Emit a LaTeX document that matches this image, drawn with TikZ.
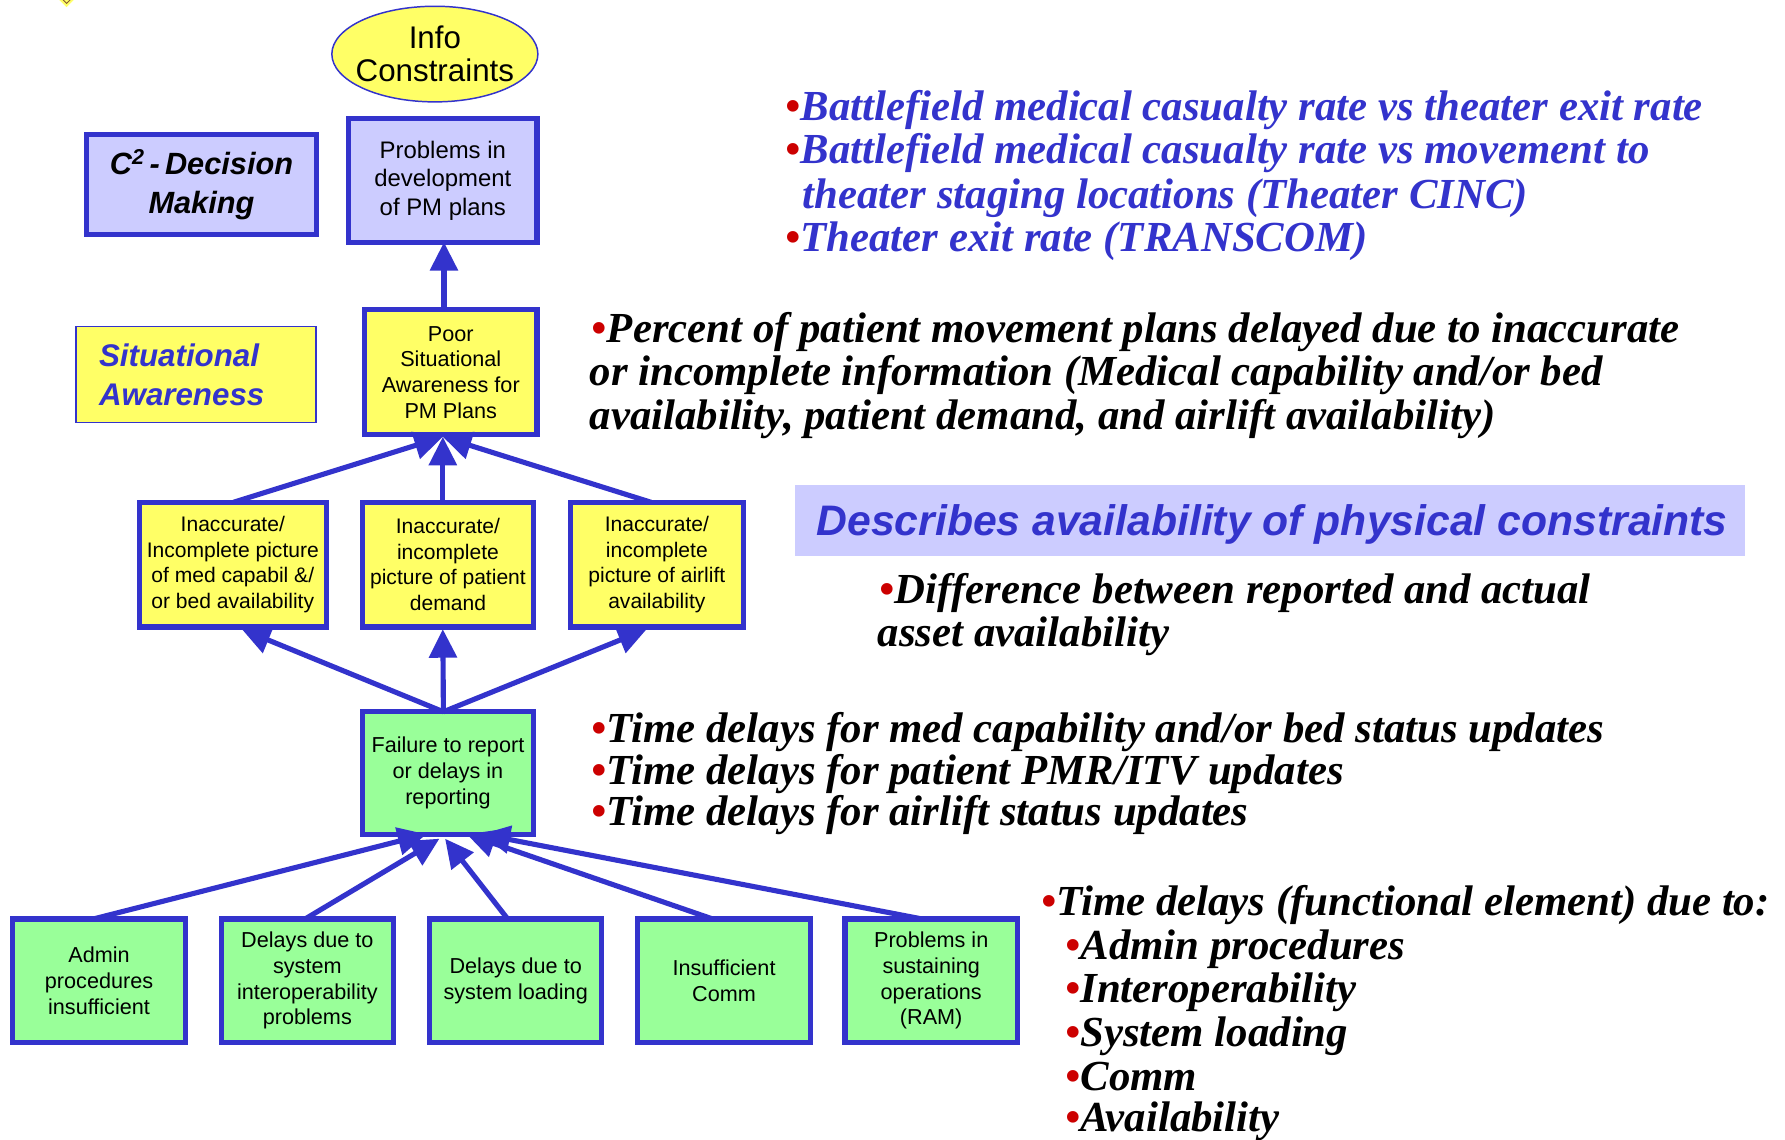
\documentclass[tikz,border=0pt]{standalone}
\usepackage{fontspec}
\setmainfont{Liberation Sans}
\newfontfamily\serifbi{Liberation Serif}
\usetikzlibrary{shapes.geometric,arrows.meta,calc}
\definecolor{bblue}{HTML}{3333CC}
\definecolor{lav}{HTML}{CCCCFF}
\definecolor{yel}{HTML}{FFFF66}
\definecolor{grn}{HTML}{99FF99}
\definecolor{bred}{HTML}{CC0000}
\newcommand{\bul}{{\color{bred}\textbullet}}
\tikzset{
  box/.style={draw=bblue, line width=4.5pt, align=center, inner sep=0pt, outer sep=0pt,
    font=\fontsize{19}{22.5}\selectfont},
  ybox/.style={box, fill=yel},
  gbox/.style={box, fill=grn},
  lbox/.style={box, fill=lav},
  arr/.style={draw=bblue, line width=4.5pt, -{Triangle[length=25pt,width=24pt]}},
  rt/.style={anchor=base west, inner sep=0pt, outer sep=0pt,
    font=\serifbi\bfseries\itshape\fontsize{37.6}{38}\selectfont},
}
\begin{document}
\begin{tikzpicture}[x=1pt,y=-1pt]
\useasboundingbox (0,0) rectangle (1568,1001);
\fill[white] (0,0) rectangle (1568,1001);
% small diamond at top left
\filldraw[fill=yel, draw=yel] (50.5,-2) -- (58.5,6) -- (66.5,-2) -- (58.5,-10) -- cycle;
\draw[draw=brown!70!black, line width=0.8pt] (54.5,-1) -- (58.5,3) -- (62.5,-1);

% left diagram
\node[ellipse, draw=bblue, line width=1.3pt, fill=yel, inner sep=0pt,
  minimum width=181, minimum height=84] (info) at (382,47.5) {};
\node[align=center, inner sep=0pt, font=\fontsize{27.5}{29}\selectfont] (infot)
  at (info.center) {Info\\Constraints};
\node[lbox, minimum width=201.5, minimum height=87.5,
  font=\bfseries\itshape\fontsize{27}{34}\selectfont] (c2) at (177,162)
  {C\textsuperscript{2}\,-\,Decision\\Making};
\node[lbox, minimum width=165.5, minimum height=108.5,
  font=\fontsize{21}{25}\selectfont] (prob) at (389,158.5)
  {Problems in\\development\\of PM plans};
\node[draw=bblue, line width=1.3pt, fill=yel, text width=170, align=left,
  inner xsep=20.4pt, inner ysep=0pt, minimum height=84.7, text=bblue,
  font=\bfseries\itshape\fontsize{27.5}{34}\selectfont] (sa) at (172,329)
  {Situational\\Awareness};
\node[ybox, minimum width=151.5, minimum height=109.5] (poor) at (396,327)
  {Poor\\Situational\\Awareness for\\PM Plans};

\node[ybox, minimum width=164.5, minimum height=109.5,
  font=\fontsize{18.5}{22.5}\selectfont] (i1) at (204.5,496)
  {Inaccurate/\\Incomplete picture\\of med capabil \&/\\or bed availability};
\node[ybox, minimum width=150.5, minimum height=109.5,
  font=\fontsize{18.5}{22.5}\selectfont] (i2) at (393.5,496)
  {Inaccurate/\\incomplete\\picture of patient\\demand};
\node[ybox, minimum width=151.5, minimum height=109.5,
  font=\fontsize{18.5}{22.5}\selectfont] (i3) at (577,496)
  {Inaccurate/\\incomplete\\picture of airlift\\availability};

\node[gbox, minimum width=150.5, minimum height=107.5] (fail) at (393.5,679)
  {Failure to report\\or delays in\\reporting};

\node[gbox, minimum width=151.5, minimum height=108.5] (b1) at (87,861.5)
  {Admin\\procedures\\insufficient};
\node[gbox, minimum width=151.5, minimum height=108.5] (b2) at (270,861.5)
  {Delays due to\\system\\interoperability\\problems};
\node[gbox, minimum width=151.5, minimum height=108.5] (b3) at (453,861.5)
  {Delays due to\\system loading};
\node[gbox, minimum width=151.5, minimum height=108.5] (b4) at (636,861.5)
  {Insufficient\\Comm};
\node[gbox, minimum width=151.5, minimum height=108.5] (b5) at (818,861.5)
  {Problems in\\sustaining\\operations\\(RAM)};

% connectors
\draw[arr] ($(poor.north)+(-6,0)$) -- ($(prob.south)+(1,0)$);
\draw[arr] ($(i1.north)+(0.5,0)$) -- ($(poor.south)+(-7,2)$);
\draw[arr] ($(i2.north)+(-4.5,0)$) -- ($(poor.south)+(-7,2)$);
\draw[arr] ($(i3.north)+(-5,0)$) -- ($(poor.south)+(-7,2)$);
\draw[arr] ($(fail.north)+(-4,0)$) -- ($(i1.south)+(8,2)$);
\draw[arr] ($(fail.north)+(-4,0)$) -- ($(i2.south)+(-4.5,2)$);
\draw[arr] ($(fail.north)+(-4,0)$) -- ($(i3.south)+(-9,2)$);
\draw[arr] ($(b1.north)+(-5,0)$) -- ($(fail.south)+(-19,0)$);
\draw[arr] ($(b2.north)+(-2,0)$) -- ($(fail.south)+(-7.5,4)$);
\draw[arr] ($(b3.north)+(-7,0)$) -- ($(fail.south)+(-2.5,4)$);
\draw[arr] ($(b4.north)+(-10,0)$) -- ($(fail.south)+(16.5,0)$);
\draw[arr] ($(b5.north)+(-8,0)$) -- ($(fail.south)+(29.5,0)$);

% right side texts
\node[rt, text=bblue] (t1a) at (690,105.5) {\bul Battlefield medical casualty rate vs theater exit rate};
\node[rt, text=bblue] (t1b) at (690,144) {\bul Battlefield medical casualty rate vs movement to};
\node[rt, text=bblue] (t1c) at (692,183) {\phantom{\textbullet}theater staging locations (Theater CINC)};
\node[rt, text=bblue] (t1d) at (690,221) {\bul Theater exit rate (TRANSCOM)};

\node[rt] (t2a) at (520,300.5) {\bul Percent of patient movement plans delayed due to inaccurate};
\node[rt] (t2b) at (518,339) {or incomplete information (Medical capability and/or bed};
\node[rt] (t2c) at (518,377) {availability, patient demand, and airlift availability)};

\fill[lav] (698,426) rectangle (1533,488);
\node[anchor=base, inner sep=0pt, text=bblue,
  font=\bfseries\itshape\fontsize{37.5}{40}\selectfont] (banner) at (1117.5,470)
  {Describes availability of physical constraints};

\node[rt] (t3a) at (773,530) {\bul Difference between reported and actual};
\node[rt] (t3b) at (771,568) {asset availability};

\node[rt] (t4a) at (520,652.5) {\bul Time delays for med capability and/or bed status updates};
\node[rt] (t4b) at (520,689) {\bul Time delays for patient PMR/ITV updates};
\node[rt] (t4c) at (520,725) {\bul Time delays for airlift status updates};

\node[rt] (t5a) at (915,804) {\bul Time delays (functional element) due to:};
\node[rt] (t5b) at (936,843) {\bul Admin procedures};
\node[rt] (t5c) at (936,881) {\bul Interoperability};
\node[rt] (t5d) at (936,919.5) {\bul System loading};
\node[rt] (t5e) at (936,957.5) {\bul Comm};
\node[rt] (t5f) at (936,994) {\bul Availability};
\end{tikzpicture}
\end{document}
